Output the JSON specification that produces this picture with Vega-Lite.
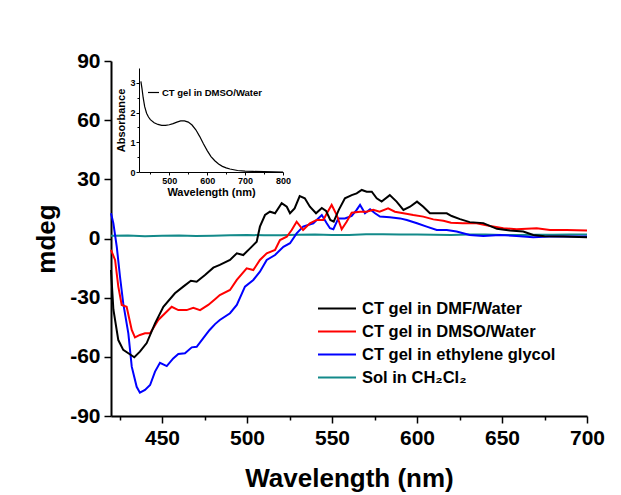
{
  "$schema": "https://vega.github.io/schema/vega-lite/v6.json",
  "width": 476,
  "height": 355,
  "autosize": "none",
  "padding": {"left": 111, "top": 61, "right": 34, "bottom": 79},
  "config": {"font": "Liberation Sans", "view": {"stroke": null}},
  "datasets": {
    "dmf": [
      {"wl":420,"v":-16},{"wl":421.4,"v":-36},{"wl":424.3,"v":-51.5},{"wl":427.2,"v":-56.5},{"wl":430.2,"v":-58.2},{"wl":433.7,"v":-60.2},{"wl":437,"v":-57.4},{"wl":441,"v":-53},{"wl":445.9,"v":-43},{"wl":450.8,"v":-34.6},{"wl":457.6,"v":-27.8},{"wl":462.5,"v":-24.4},{"wl":467,"v":-21.4},{"wl":470.4,"v":-21.9},{"wl":475.3,"v":-18.5},{"wl":480.2,"v":-14.8},{"wl":484,"v":-13.4},{"wl":490,"v":-10.9},{"wl":494,"v":-7.5},{"wl":497.8,"v":-8.4},{"wl":501.8,"v":-5},{"wl":505.7,"v":-1.6},{"wl":507.6,"v":6},{"wl":510.6,"v":11.9},{"wl":513.5,"v":13.6},{"wl":516.5,"v":12.8},{"wl":520.4,"v":17.9},{"wl":523.4,"v":16.1},{"wl":525.3,"v":12.8},{"wl":528,"v":15.3},{"wl":531,"v":21.5},{"wl":534,"v":20.4},{"wl":537,"v":16.1},{"wl":540.6,"v":12.8},{"wl":544,"v":15.5},{"wl":546.5,"v":14},{"wl":549,"v":9.4},{"wl":551,"v":8.5},{"wl":554,"v":14.5},{"wl":557.6,"v":20.4},{"wl":561.6,"v":22},{"wl":564.5,"v":22.9},{"wl":567.5,"v":24.6},{"wl":570.4,"v":23.7},{"wl":573.4,"v":23.7},{"wl":576.3,"v":20.4},{"wl":579.2,"v":18.7},{"wl":584,"v":22},{"wl":588,"v":18.7},{"wl":592,"v":14.5},{"wl":595.9,"v":16.1},{"wl":600,"v":18.7},{"wl":603.7,"v":16.1},{"wl":607.6,"v":12.8},{"wl":613.5,"v":12.8},{"wl":617.5,"v":12.8},{"wl":620.4,"v":11.4},{"wl":625.3,"v":9.8},{"wl":631,"v":8.3},{"wl":639,"v":7.8},{"wl":647,"v":4.9},{"wl":654.7,"v":4.1},{"wl":662.5,"v":3.5},{"wl":668.4,"v":1.8},{"wl":675,"v":1.2},{"wl":686,"v":1.0},{"wl":700,"v":0.6}
    ],
    "dmso": [
      {"wl":420,"v":-5.8},{"wl":422.4,"v":-10.9},{"wl":424.3,"v":-24.4},{"wl":426.3,"v":-33.7},{"wl":429.2,"v":-34.6},{"wl":432.2,"v":-46.4},{"wl":434.1,"v":-50.1},{"wl":437,"v":-48.9},{"wl":440,"v":-48.1},{"wl":443,"v":-48.1},{"wl":447.8,"v":-41.3},{"wl":451.8,"v":-37.9},{"wl":455.7,"v":-34.6},{"wl":459.6,"v":-36.3},{"wl":464.5,"v":-36.3},{"wl":468.4,"v":-35.1},{"wl":472.4,"v":-36.3},{"wl":477.2,"v":-33.7},{"wl":481.2,"v":-30.8},{"wl":484,"v":-28.7},{"wl":490,"v":-26.1},{"wl":494,"v":-21},{"wl":499.8,"v":-15.1},{"wl":503.7,"v":-16},{"wl":507.6,"v":-10.9},{"wl":511.6,"v":-7.5},{"wl":516.5,"v":-5.8},{"wl":519.4,"v":-0.8},{"wl":523.4,"v":0.9},{"wl":526.3,"v":4.3},{"wl":529.2,"v":8.5},{"wl":533,"v":4.3},{"wl":537,"v":7.7},{"wl":541,"v":9.4},{"wl":544.9,"v":9.4},{"wl":547,"v":12.8},{"wl":549.8,"v":17},{"wl":552.8,"v":11.9},{"wl":555.7,"v":4.7},{"wl":558.6,"v":8.5},{"wl":561.6,"v":13.1},{"wl":566.5,"v":13.6},{"wl":570.4,"v":13.6},{"wl":574.3,"v":14.5},{"wl":578,"v":13.6},{"wl":583,"v":15.3},{"wl":587,"v":13.6},{"wl":592,"v":12.8},{"wl":597.8,"v":11.9},{"wl":603.7,"v":11.1},{"wl":609.6,"v":9.7},{"wl":615.5,"v":9},{"wl":620,"v":8},{"wl":627,"v":7.7},{"wl":635,"v":7.7},{"wl":643,"v":6.3},{"wl":650.8,"v":5.2},{"wl":658.6,"v":4.7},{"wl":670.4,"v":5.2},{"wl":678.2,"v":4.3},{"wl":688,"v":4.3},{"wl":700,"v":4}
    ],
    "eg": [
      {"wl":420,"v":12.8},{"wl":421.4,"v":7.7},{"wl":423.4,"v":-4.2},{"wl":425.3,"v":-19.4},{"wl":427.2,"v":-32.9},{"wl":430.2,"v":-48.1},{"wl":432.2,"v":-65},{"wl":435.1,"v":-75.2},{"wl":437,"v":-78.2},{"wl":440,"v":-76.8},{"wl":443,"v":-74.3},{"wl":445.9,"v":-67.5},{"wl":448.8,"v":-63},{"wl":452.8,"v":-64.7},{"wl":456.6,"v":-60.8},{"wl":459.6,"v":-58.6},{"wl":463.5,"v":-58.2},{"wl":467.5,"v":-55.2},{"wl":470.4,"v":-54.9},{"wl":475.3,"v":-49.4},{"wl":478,"v":-46.4},{"wl":481.2,"v":-43.4},{"wl":484,"v":-41.3},{"wl":490,"v":-37.9},{"wl":494,"v":-33.7},{"wl":498.8,"v":-24.4},{"wl":503.7,"v":-21},{"wl":507.6,"v":-16.8},{"wl":511.6,"v":-10.9},{"wl":516.5,"v":-8.4},{"wl":521.4,"v":-4.2},{"wl":525.3,"v":-2.4},{"wl":529.2,"v":2.6},{"wl":533,"v":6},{"wl":539,"v":7.7},{"wl":544,"v":11.9},{"wl":546.9,"v":7.7},{"wl":548.8,"v":5.2},{"wl":550.8,"v":4.7},{"wl":553.7,"v":10.2},{"wl":557.6,"v":10.2},{"wl":561.6,"v":11.4},{"wl":564.5,"v":14.5},{"wl":566.5,"v":17},{"wl":569.4,"v":12.8},{"wl":572.4,"v":14.8},{"wl":575.3,"v":12.8},{"wl":578.2,"v":11.1},{"wl":584,"v":10.8},{"wl":590,"v":10.2},{"wl":594,"v":9.4},{"wl":600,"v":7.7},{"wl":605.7,"v":6},{"wl":611.6,"v":4.3},{"wl":617.5,"v":4.3},{"wl":623.3,"v":3.5},{"wl":631,"v":1.8},{"wl":639,"v":1.3},{"wl":648.8,"v":1.8},{"wl":658.6,"v":1.3},{"wl":668.4,"v":0.6},{"wl":678,"v":1},{"wl":688,"v":1},{"wl":700,"v":1}
    ],
    "sol": [
      {"wl":420,"v":1.4},{"wl":430,"v":1.5},{"wl":440,"v":1.2},{"wl":450,"v":1.4},{"wl":460,"v":1.5},{"wl":470,"v":1.3},{"wl":480,"v":1.4},{"wl":490,"v":1.6},{"wl":500,"v":1.8},{"wl":510,"v":1.6},{"wl":520,"v":1.7},{"wl":530,"v":1.9},{"wl":540,"v":2.0},{"wl":550,"v":1.8},{"wl":560,"v":1.8},{"wl":570,"v":2.1},{"wl":580,"v":2.2},{"wl":590,"v":2.0},{"wl":600,"v":2.0},{"wl":610,"v":1.9},{"wl":620,"v":1.8},{"wl":630,"v":2.0},{"wl":640,"v":2.0},{"wl":650,"v":1.8},{"wl":660,"v":1.8},{"wl":670,"v":1.9},{"wl":680,"v":1.9},{"wl":690,"v":2.0},{"wl":700,"v":2.0}
    ],
    "abs": [
      {"wl":425,"a":3.05},{"wl":428,"a":2.8},{"wl":431,"a":2.5},{"wl":435,"a":2.2},{"wl":440,"a":1.98},{"wl":445,"a":1.85},{"wl":450,"a":1.76},{"wl":460,"a":1.66},{"wl":470,"a":1.6},{"wl":480,"a":1.57},{"wl":490,"a":1.57},{"wl":500,"a":1.59},{"wl":510,"a":1.63},{"wl":520,"a":1.68},{"wl":530,"a":1.72},{"wl":540,"a":1.72},{"wl":550,"a":1.68},{"wl":560,"a":1.58},{"wl":570,"a":1.42},{"wl":580,"a":1.2},{"wl":590,"a":0.95},{"wl":600,"a":0.72},{"wl":610,"a":0.52},{"wl":620,"a":0.38},{"wl":630,"a":0.27},{"wl":640,"a":0.19},{"wl":650,"a":0.14},{"wl":660,"a":0.1},{"wl":680,"a":0.05},{"wl":700,"a":0.03},{"wl":720,"a":0.02},{"wl":750,"a":0.01},{"wl":800,"a":0.0}
    ]
  },
  "layer": [
    {
      "layer": [
        {"data": {"name": "sol"}, "mark": {"type": "line", "strokeWidth": 2}, "encoding": {"x": {"field": "wl", "type": "quantitative"}, "y": {"field": "v", "type": "quantitative"}, "color": {"datum": "Sol in CH₂Cl₂"}}},
        {"data": {"name": "eg"}, "mark": {"type": "line", "strokeWidth": 2}, "encoding": {"x": {"field": "wl", "type": "quantitative"}, "y": {"field": "v", "type": "quantitative"}, "color": {"datum": "CT gel in ethylene glycol"}}},
        {"data": {"name": "dmso"}, "mark": {"type": "line", "strokeWidth": 2}, "encoding": {"x": {"field": "wl", "type": "quantitative"}, "y": {"field": "v", "type": "quantitative"}, "color": {"datum": "CT gel in DMSO/Water"}}},
        {"data": {"name": "dmf"}, "mark": {"type": "line", "strokeWidth": 2}, "encoding": {
          "x": {"field": "wl", "type": "quantitative", "scale": {"domain": [420, 700], "nice": false, "zero": false},
            "axis": {"values": [425,450,475,500,525,550,575,600,625,650,675,700], "labelExpr": "datum.value % 50 === 0 ? datum.label : ''", "tickSize": {"condition": {"test": "datum.value % 50 === 0", "value": 7}, "value": 4}, "title": "Wavelength (nm)", "titleFontSize": 26, "titleFontWeight": "bold", "titleColor": "black", "labelFontSize": 21, "labelFontWeight": "bold", "labelColor": "black", "grid": false, "domainColor": "black", "domainWidth": 2, "tickColor": "black", "tickWidth": 1.5, "labelPadding": 4, "titlePadding": 17, "labelFlush": false, "labelOverlap": false}},
          "y": {"field": "v", "type": "quantitative", "scale": {"domain": [-90, 90], "nice": false},
            "axis": {"values": [-90,-75,-60,-45,-30,-15,0,15,30,45,60,75,90], "labelExpr": "datum.value % 30 === 0 ? '' + datum.value : ''", "tickSize": {"condition": {"test": "datum.value % 30 === 0", "value": 7}, "value": 4}, "title": "mdeg", "titleFontSize": 26, "titleFontWeight": "bold", "titleColor": "black", "labelFontSize": 21, "labelFontWeight": "bold", "labelColor": "black", "grid": false, "domainColor": "black", "domainWidth": 2, "tickColor": "black", "tickWidth": 1.5, "labelPadding": 4, "titlePadding": 10, "labelFlush": false, "labelOverlap": false}},
          "color": {"datum": "CT gel in DMF/Water", "type": "nominal",
            "scale": {"domain": ["CT gel in DMF/Water", "CT gel in DMSO/Water", "CT gel in ethylene glycol", "Sol in CH₂Cl₂"], "range": ["#000000", "#ff0000", "#0000ff", "#138a8a"]},
            "legend": {"title": null, "orient": "none", "legendX": 206, "legendY": 236, "symbolType": "stroke", "symbolSize": 1444, "symbolStrokeWidth": 2, "clipHeight": 23, "labelFontSize": 16.5, "labelFontWeight": "bold", "labelColor": "black", "labelOffset": 5, "rowPadding": 0, "labelLimit": 400}}
        }}
      ]
    },
    {
      "data": {"name": "abs"},
      "mark": {"type": "line", "strokeWidth": 1.2},
      "encoding": {
        "x": {"field": "wl", "type": "quantitative", "scale": {"domain": [420, 800], "range": [28, 172], "nice": false, "zero": false},
          "axis": {"orient": "bottom", "offset": -244, "values": [450,500,550,600,650,700,750,800], "labelExpr": "datum.value % 100 === 0 ? datum.label : ''", "tickSize": {"condition": {"test": "datum.value % 100 === 0", "value": 3}, "value": 2}, "title": "Wavelength (nm)", "titleFontSize": 11, "titleFontWeight": "bold", "titleColor": "black", "labelFontSize": 9, "labelFontWeight": "bold", "labelColor": "black", "grid": false, "domainColor": "black", "domainWidth": 1, "tickColor": "black", "tickWidth": 1, "labelPadding": 1, "titlePadding": 1, "labelFlush": false, "labelOverlap": false}},
        "y": {"field": "a", "type": "quantitative", "scale": {"domain": [0, 3.5], "range": [111, 7], "nice": false},
          "axis": {"orient": "left", "offset": -28, "values": [0,0.5,1,1.5,2,2.5,3], "labelExpr": "datum.value % 1 === 0 ? '' + datum.value : ''", "tickSize": {"condition": {"test": "datum.value % 1 === 0", "value": 3}, "value": 2}, "title": "Absorbance", "titleFontSize": 11, "titleFontWeight": "bold", "titleColor": "black", "labelFontSize": 9, "labelFontWeight": "bold", "labelColor": "black", "grid": false, "domainColor": "black", "domainWidth": 1, "tickColor": "black", "tickWidth": 1, "labelPadding": 1, "titlePadding": 3, "labelFlush": false, "labelOverlap": false}},
        "color": {"datum": "CT gel in DMSO/Water", "type": "nominal", "scale": {"range": ["#000000"]},
          "legend": {"title": null, "orient": "none", "legendX": 36, "legendY": 25, "symbolType": "stroke", "symbolSize": 121, "symbolStrokeWidth": 1.2, "labelFontSize": 9.5, "labelFontWeight": "bold", "labelColor": "black", "labelOffset": 2, "labelLimit": 300}}
      }
    }
  ],
  "resolve": {"scale": {"x": "independent", "y": "independent", "color": "independent"}}
}
